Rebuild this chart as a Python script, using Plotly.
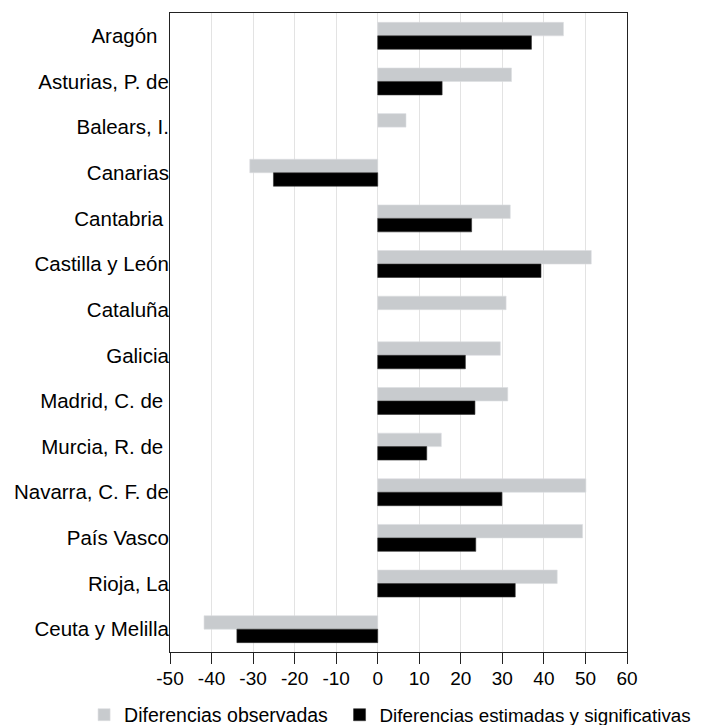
import plotly.graph_objects as go

categories = ["Aragón", "Asturias, P. de", "Balears, I.", "Canarias", "Cantabria",
              "Castilla y León", "Cataluña", "Galicia", "Madrid, C. de", "Murcia, R. de",
              "Navarra, C. F. de", "País Vasco", "Rioja, La", "Ceuta y Melilla"]
observadas = [44.7, 32.2, 6.8, -30.8, 31.9, 51.4, 30.9, 29.5, 31.3, 15.3, 50.1, 49.3, 43.2, -41.8]
estimadas = [37.0, 15.5, None, -25.1, 22.6, 39.3, None, 21.1, 23.4, 11.8, 29.9, 23.6, 33.1, -33.9]
tick_vals = [-50, -40, -30, -20, -10, 0, 10, 20, 30, 40, 50, 60]

pad = {"Aragón": "\u00a0\u00a0", "Cantabria": "\u00a0", "Madrid, C. de": "\u00a0", "Murcia, R. de": "\u00a0"}
labels = [c + pad.get(c, "") for c in categories]

fig = go.Figure()
fig.add_trace(go.Bar(
    y=labels, x=observadas, orientation="h", name="Diferencias observadas",
    marker=dict(color="#C8CBCE", line=dict(color="#DCDEE0", width=0.6)),
    legend="legend",
))
fig.add_trace(go.Bar(
    y=labels, x=estimadas, orientation="h", name="Diferencias estimadas y significativas",
    marker=dict(color="#000000", line=dict(color="#333333", width=0.6)),
    legend="legend2",
))

legend_common = dict(orientation="h", xanchor="left", y=-0.0986, yanchor="middle",
                     itemclick=False, bgcolor="rgba(0,0,0,0)")

# the page body adds an 8px offset, so the figure is sized to fit inside the window
fig.update_layout(
    width=698, height=717,
    margin=dict(l=162, r=79, t=5, b=73, autoexpand=False),
    paper_bgcolor="white", plot_bgcolor="white",
    barmode="group", bargap=0.41, bargroupgap=0,
    font=dict(family="Liberation Sans, Arial, sans-serif", color="#000000"),
    showlegend=True,
    legend=dict(x=-0.188, font=dict(size=19.5), **legend_common),
    legend2=dict(x=0.371, font=dict(size=18.8), **legend_common),
)
fig.update_xaxes(
    range=[-50, 60], tickvals=tick_vals, ticktext=[str(v) for v in tick_vals],
    showgrid=True, gridcolor="#E3E3E3", gridwidth=1, zeroline=False,
    showline=True, linecolor="#222222", linewidth=1, mirror=True,
    ticks="outside", ticklen=11, tickcolor="#222222", tickwidth=1,
    tickfont=dict(size=19), automargin=False, ticklabelstandoff=-2,
)
fig.update_yaxes(
    autorange="reversed", showgrid=False, zeroline=False,
    showline=True, linecolor="#222222", linewidth=1, mirror=True,
    ticks="", tickfont=dict(size=20.5), automargin=False, ticklabelstandoff=-4,
)

fig.write_html("out.html")
